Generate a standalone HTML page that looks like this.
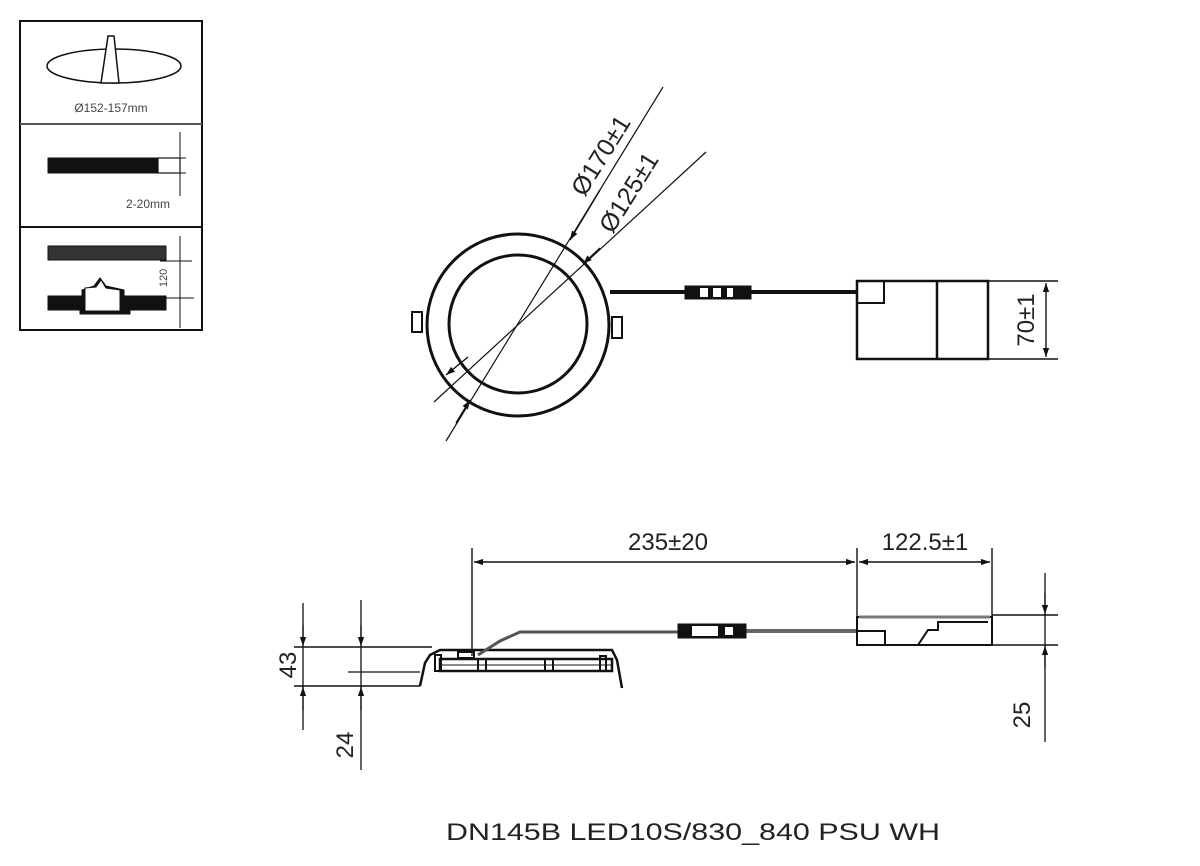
<!DOCTYPE html>
<html><head><meta charset="utf-8"><style>
html,body{margin:0;padding:0;background:#fff;}
svg{display:block;font-family:"Liberation Sans",sans-serif;}
</style></head><body>
<svg width="1200" height="866" viewBox="0 0 1200 866" xmlns="http://www.w3.org/2000/svg">
<defs>
<marker id="a" viewBox="0 0 10 10" refX="10" refY="5" markerWidth="12" markerHeight="9" orient="auto-start-reverse" markerUnits="userSpaceOnUse"><path d="M0,1.5 L10,5 L0,8.5 z" fill="#111"/></marker>
</defs>
<g stroke="#111" fill="none">
<!-- left panel -->
<rect x="20" y="21" width="182" height="309" stroke-width="2"/>
<line x1="20" y1="124" x2="202" y2="124" stroke-width="2" stroke="#555"/>
<line x1="20" y1="227" x2="202" y2="227" stroke-width="2"/>
<ellipse cx="114" cy="66" rx="67" ry="17" stroke-width="1.5"/>
<path d="M101,83 L108,36 L114,36 L119,83 Z" fill="#fff" stroke-width="1.5"/>
<rect x="48" y="158" width="110" height="15" fill="#111"/>
<rect x="158" y="158" width="22" height="15" stroke-width="1.2"/>
<line x1="180" y1="132" x2="180" y2="196" stroke-width="1"/>
<line x1="180" y1="158" x2="186" y2="158"/><line x1="180" y1="173" x2="186" y2="173"/>
<rect x="48" y="246" width="118" height="14" fill="#333" stroke-width="1"/>
<line x1="160" y1="261" x2="192" y2="261" stroke-width="1"/>
<path d="M48,296 L82,296 L82,290 L94,286 L100,278 L106,286 L124,290 L124,296 L166,296 L166,310 L130,310 L130,314 L80,314 L80,310 L48,310 Z" fill="#111"/>
<path d="M85,296 L85,288 L96,287 L101,280 L106,288 L120,290 L120,311 L85,311 Z" fill="#fff" stroke-width="1"/>
<line x1="160" y1="298" x2="194" y2="298" stroke-width="1"/>
<line x1="180" y1="236" x2="180" y2="328" stroke-width="1"/>

<!-- top view -->
<circle cx="518" cy="325" r="91" stroke-width="3"/>
<circle cx="518" cy="324" r="69" stroke-width="3"/>
<rect x="412" y="312" width="10" height="20" stroke-width="2"/>
<rect x="612" y="317" width="10" height="21" stroke-width="2"/>
<line x1="663" y1="87" x2="446" y2="441" stroke-width="1.2"/>
<line x1="706" y1="152" x2="434" y2="402" stroke-width="1.2"/>
<line x1="600" y1="190" x2="570" y2="240" stroke-width="1.4" marker-end="url(#a)"/>
<line x1="470" y1="400" x2="456" y2="423" stroke-width="1.4" marker-start="url(#a)"/>
<line x1="600" y1="248" x2="583" y2="264" stroke-width="1.4" marker-end="url(#a)"/>
<line x1="446" y1="375" x2="468" y2="357" stroke-width="1.4" marker-start="url(#a)"/>
<line x1="610" y1="292" x2="857" y2="292" stroke-width="4"/>
<rect x="685" y="286" width="66" height="13" fill="#111" stroke-width="1"/>
<rect x="700" y="288" width="8" height="9" fill="#fff" stroke="none"/>
<rect x="713" y="288" width="8" height="9" fill="#fff" stroke="none"/>
<rect x="727" y="288" width="6" height="9" fill="#fff" stroke="none"/>
<rect x="857" y="281" width="131" height="78" stroke-width="2.5"/>
<line x1="937" y1="281" x2="937" y2="359" stroke-width="2.5"/>
<rect x="857" y="281" width="27" height="22" stroke-width="2"/>
<line x1="988" y1="281" x2="1058" y2="281" stroke-width="1.5"/>
<line x1="988" y1="359" x2="1058" y2="359" stroke-width="1.5"/>
<line x1="1046" y1="283" x2="1046" y2="357" stroke-width="1.4" marker-start="url(#a)" marker-end="url(#a)"/>

<!-- side view -->
<line x1="472" y1="548" x2="472" y2="656" stroke-width="1.4"/>
<line x1="857" y1="548" x2="857" y2="640" stroke-width="1.4"/>
<line x1="992" y1="548" x2="992" y2="617" stroke-width="1.4"/>
<line x1="474" y1="562" x2="855" y2="562" stroke-width="1.4" marker-start="url(#a)" marker-end="url(#a)"/>
<line x1="859" y1="562" x2="990" y2="562" stroke-width="1.4" marker-start="url(#a)" marker-end="url(#a)"/>
<line x1="303" y1="603" x2="303" y2="730" stroke-width="1.3"/>
<line x1="303" y1="625" x2="303" y2="646" stroke-width="1.3" marker-end="url(#a)"/>
<line x1="303" y1="710" x2="303" y2="687" stroke-width="1.3" marker-end="url(#a)"/>
<line x1="361" y1="600" x2="361" y2="770" stroke-width="1.3"/>
<line x1="361" y1="625" x2="361" y2="646" stroke-width="1.3" marker-end="url(#a)"/>
<line x1="361" y1="710" x2="361" y2="687" stroke-width="1.3" marker-end="url(#a)"/>
<line x1="294" y1="647" x2="432" y2="647" stroke-width="1.5"/>
<line x1="294" y1="686" x2="420" y2="686" stroke-width="1.5"/>
<line x1="348" y1="672" x2="420" y2="672" stroke-width="1.2"/>
<path d="M420,686 L425,663 L430,655 L440,650 L612,650 L617,660 L622,688" stroke-width="2.5"/>
<rect x="440" y="659" width="172" height="12" stroke-width="2.5"/>
<line x1="440" y1="665" x2="612" y2="665" stroke-width="1"/>
<rect x="458" y="652" width="16" height="6" stroke-width="2"/>
<rect x="478" y="659" width="8" height="12" stroke-width="2"/>
<rect x="545" y="659" width="8" height="12" stroke-width="2"/>
<rect x="600" y="656" width="6" height="15" stroke-width="2"/>
<rect x="435" y="655" width="6" height="16" stroke-width="2"/>
<path d="M478,655 L500,641 L520,632 L680,632" stroke-width="3" stroke="#555"/>
<line x1="745" y1="631" x2="857" y2="631" stroke-width="4" stroke="#666"/>
<rect x="678" y="624" width="68" height="14" fill="#111" stroke-width="1"/>
<rect x="692" y="626" width="26" height="10" fill="#fff" stroke="none"/>
<rect x="725" y="627" width="8" height="8" fill="#fff" stroke="none"/>
<path d="M857,617 L992,617 L992,645 L857,645 Z" stroke-width="2"/>
<line x1="859" y1="617" x2="990" y2="617" stroke-width="3" stroke="#777"/>
<path d="M857,631 L885,631 L885,645 M918,645 L928,630 L938,630 L938,622 L988,622" stroke-width="2"/>
<line x1="992" y1="615" x2="1058" y2="615" stroke-width="1.5"/>
<line x1="992" y1="645" x2="1058" y2="645" stroke-width="1.5"/>
<line x1="1045" y1="573" x2="1045" y2="742" stroke-width="1.3"/>
<line x1="1045" y1="593" x2="1045" y2="614" stroke-width="1.3" marker-end="url(#a)"/>
<line x1="1045" y1="668" x2="1045" y2="646" stroke-width="1.3" marker-end="url(#a)"/>
</g>
<g fill="#222">
<text x="111" y="112" font-size="12" text-anchor="middle" fill="#444">Ø152-157mm</text>
<text x="148" y="208" font-size="12" text-anchor="middle" fill="#444">2-20mm</text>
<text transform="translate(167,278) rotate(-90)" font-size="11" text-anchor="middle" fill="#444">120</text>
<text transform="translate(608,160) rotate(-58)" font-size="25" text-anchor="middle">Ø170±1</text>
<text transform="translate(636,197) rotate(-58)" font-size="25" text-anchor="middle">Ø125±1</text>
<text transform="translate(1034,320) rotate(-90)" font-size="24" text-anchor="middle">70±1</text>
<text x="668" y="550" font-size="24" text-anchor="middle">235±20</text>
<text x="925" y="550" font-size="24" text-anchor="middle">122.5±1</text>
<text transform="translate(296,665) rotate(-90)" font-size="24" text-anchor="middle">43</text>
<text transform="translate(353,745) rotate(-90)" font-size="24" text-anchor="middle">24</text>
<text transform="translate(1030,715) rotate(-90)" font-size="24" text-anchor="middle">25</text>
<text x="693" y="840" font-size="24" text-anchor="middle" textLength="494" lengthAdjust="spacingAndGlyphs">DN145B LED10S/830_840 PSU WH</text>
</g>
</svg>
</body></html>
